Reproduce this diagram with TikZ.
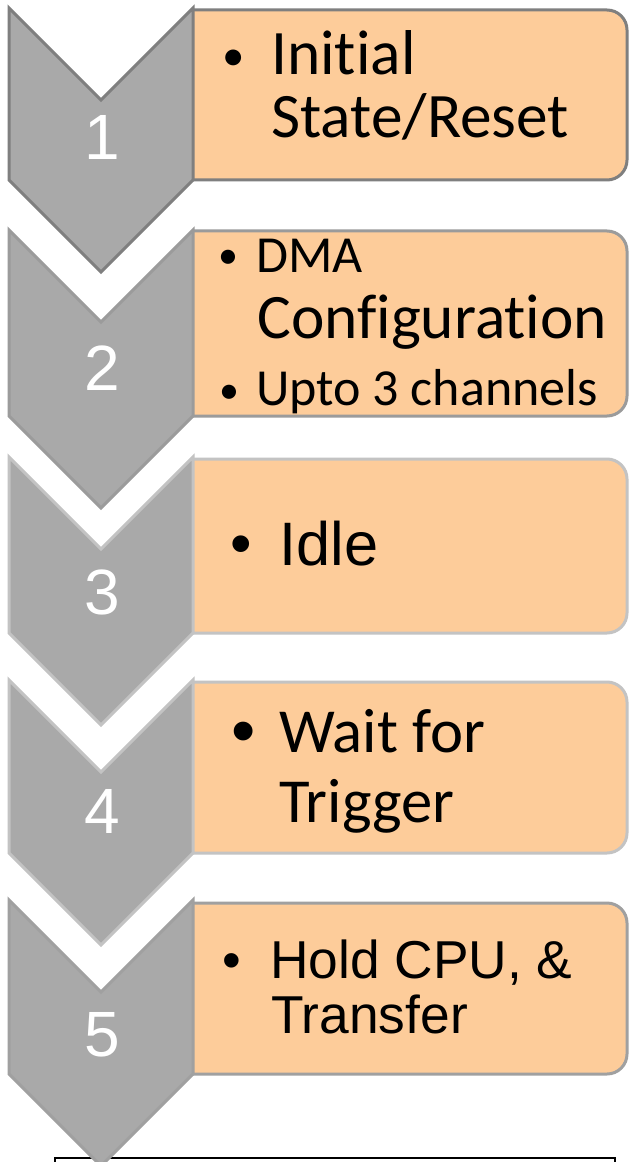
\documentclass[tikz,border=0pt]{standalone}
\usepackage{fontspec}
\setmainfont{Carlito}
\newfontfamily\calf[Ligatures=NoCommon]{Carlito}
\newfontfamily\arialf{Liberation Sans}
\definecolor{peach}{RGB}{253,204,154}
\definecolor{chevfill}{RGB}{169,169,169}
\definecolor{bdA}{RGB}{127,127,127}
\definecolor{bdB}{RGB}{155,155,155}
\definecolor{bdC}{RGB}{195,195,195}
\definecolor{bdD}{RGB}{195,195,195}
\definecolor{bdE}{RGB}{160,160,160}
\newcommand\fntBig{\calf\fontsize{47.5pt}{50pt}\selectfont}
\newcommand\fntConf{\calf\fontsize{47.5pt}{50pt}\selectfont}
\newcommand\fntMid{\calf\fontsize{39pt}{42pt}\selectfont}
\newcommand\fntW{\calf\fontsize{47pt}{50pt}\selectfont}
\newcommand\fntIdle{\arialf\fontsize{46pt}{50pt}\selectfont}
\newcommand\fntBulW{\arialf\fontsize{52pt}{56pt}\selectfont}
\newcommand\fntHold{\arialf\fontsize{40pt}{44pt}\selectfont}
\newcommand\fntNum{\arialf\fontsize{48pt}{52pt}\selectfont}
\newcommand\fntBulA{\calf\fontsize{33.6pt}{36pt}\selectfont}
\newcommand\fntBulB{\calf\fontsize{30pt}{32pt}\selectfont}
\tikzset{
  chev/.style={fill=chevfill, line width=2.25pt, line join=miter},
  stagebox/.style={fill=peach, line width=2.25pt, rounded corners=15pt},
  num/.style={text=white, font=\fntNum, anchor=base, inner sep=0pt},
  txt/.style={anchor=base west, inner sep=0pt},
  bul/.style={anchor=base, inner sep=0pt},
}
\begin{document}
\begin{tikzpicture}[x=0.75pt,y=-0.75pt]
\useasboundingbox (0,0) rectangle (629,1162);
\fill[white] (0,0) rectangle (629,1162);
% bottom line
\coordinate (la) at (55,1165);
\coordinate (lb) at (55,1158);
\coordinate (lc) at (615,1158);
\coordinate (ld) at (615,1165);
\draw[line width=1.8pt] (la) -- (lb) -- (lc) -- (ld);
% stage 1
\path[stagebox, draw=bdA] (193,10) -- (627,10) -- (627,180) -- (193,180);
\draw[chev, draw=bdA] (9,8) -- (101,100) -- (193,8) -- (193,180) -- (101,272) -- (9,180) -- cycle;
\node[num] (n1) at (102,160) {1};
\node[bul, font=\fntBulA] (b1) at (233.5,70.5) {•};
\node[txt, font=\fntBig] (t1a) at (271,75) {Initial};
\node[txt, font=\fntBig] (t1b) at (271,138) {State/Reset};
% stage 2
\path[stagebox, draw=bdB] (193,231) -- (627,231) -- (627,416) -- (193,416);
\draw[chev, draw=bdB] (9,230) -- (101,322) -- (193,230) -- (193,416) -- (101,508) -- (9,416) -- cycle;
\node[num] (n2) at (102,390) {2};
\node[bul, font=\fntBulB] (b2a) at (228,268.6) {•};
\node[txt, font=\fntMid] (t2a) at (256,273) {DMA};
\node[txt, font=\fntConf] (t2b) at (257,338) {Configuration};
\node[bul, font=\fntBulB] (b2b) at (229,403.6) {•};
\node[txt, font=\fntMid] (t2c) at (256,405) {Upto 3 channels};
% stage 3
\path[stagebox, draw=bdC] (193,459) -- (627,459) -- (627,633) -- (193,633);
\draw[chev, draw=bdC] (9,457) -- (101,549) -- (193,457) -- (193,633) -- (101,725) -- (9,633) -- cycle;
\node[num] (n3) at (102,614) {3};
\node[bul, font=\fntIdle] (b3) at (241,564) {•};
\node[txt, font=\fntIdle] (t3) at (279,565) {Idle};
% stage 4
\path[stagebox, draw=bdD] (193,682) -- (627,682) -- (627,853) -- (193,853);
\draw[chev, draw=bdD] (9,680) -- (101,772) -- (193,680) -- (193,853) -- (101,945) -- (9,853) -- cycle;
\node[num] (n4) at (102,833) {4};
\node[bul, font=\fntBulW] (b4) at (244,754.5) {•};
\node[txt, font=\fntW] (t4a) at (279,752) {Wait for};
\node[txt, font=\fntW] (t4b) at (279,822) {Trigger};
% stage 5
\path[stagebox, draw=bdE] (193,903) -- (627,903) -- (627,1074) -- (193,1074);
\draw[chev, draw=bdE] (9,900) -- (101,992) -- (193,900) -- (193,1074) -- (101,1166) -- (9,1074) -- cycle;
\node[num] (n5) at (102,1056) {5};
\node[bul, font=\fntHold] (b5) at (232,978) {•};
\node[txt, font=\fntHold] (t5a) at (270,978) {Hold CPU, \&};
\node[txt, font=\fntHold] (t5b) at (271,1033) {Transfer};
\end{tikzpicture}
\end{document}
